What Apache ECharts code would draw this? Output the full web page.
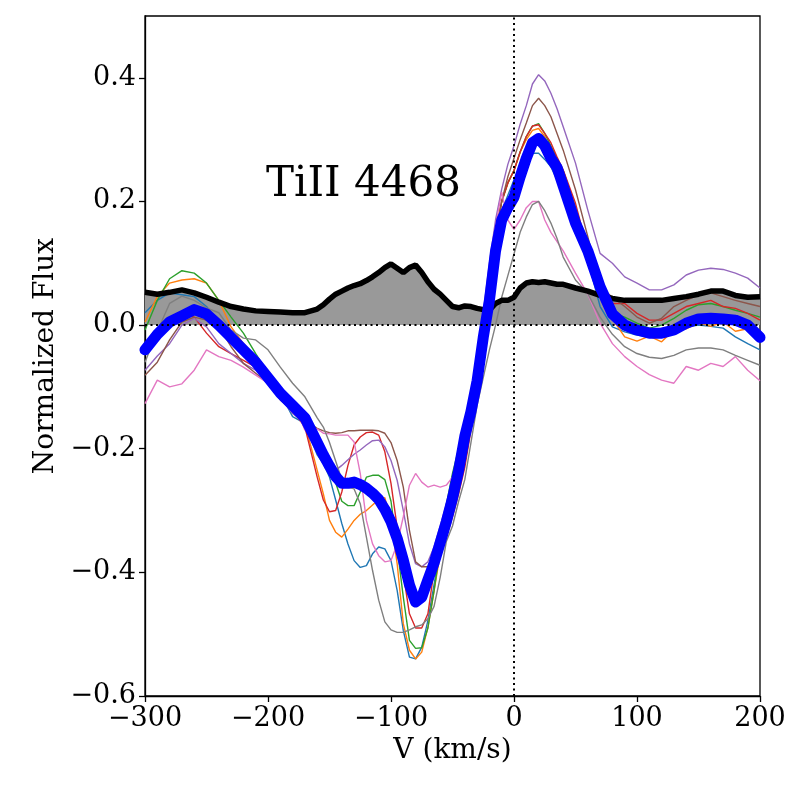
<!DOCTYPE html>
<html>
<head>
<meta charset="utf-8">
<script src="https://cdn.jsdelivr.net/npm/echarts@6/dist/echarts.min.js"></script>
<style>
  html, body { margin: 0; padding: 0; background: #fff; }
  #main { width: 800px; height: 800px; }
</style>
</head>
<body>
<div id="main"></div>
<script>
// velocity grid (km/s)
var V = [-300, -290, -280, -270, -260, -250, -240, -230, -220, -210, -200, -190, -180, -170, -160,
  -155, -150, -145, -140, -135, -130, -125, -120, -115, -110, -105, -100, -95, -90, -85, -80,
  -75, -70, -65, -60, -55, -50, -45, -40, -35, -30, -25, -20, -15, -10, -5, 0,
  5, 10, 15, 20, 25, 30, 35, 40, 50, 60, 70, 80, 90, 100, 110, 120, 130, 140, 150, 160, 170, 180, 190, 200];

var xTicks = [-300, -200, -100, 0, 100, 200];
var yTicks = [-0.6, -0.4, -0.2, 0.0, 0.2, 0.4];
var lineLabel = 'TiII 4468';

var spec1 = [0.02, 0.04, 0.052, 0.049, 0.046, 0.03, 0.005, -0.019, -0.046, -0.062, -0.092, -0.11, -0.148, -0.159, -0.21,
  -0.224, -0.246, -0.283, -0.321, -0.354, -0.381, -0.392, -0.389, -0.37, -0.359, -0.362, -0.381, -0.429, -0.494, -0.537, -0.54,
  -0.521, -0.478, -0.42, -0.36, -0.3, -0.26, -0.22, -0.17, -0.12, -0.06, 0.01, 0.08, 0.14, 0.185, 0.21, 0.235,
  0.255, 0.272, 0.278, 0.278, 0.268, 0.256, 0.235, 0.219, 0.175, 0.105, 0.03, -0.003, -0.011, -0.016, -0.019, -0.016, -0.011, -0.003, 0.0, -0.002, -0.005, -0.019, -0.03, -0.04];
var spec2 = [0.005, 0.046, 0.068, 0.073, 0.075, 0.068, 0.04, -0.003, -0.03, -0.051, -0.084, -0.105, -0.132, -0.159, -0.235,
  -0.273, -0.316, -0.335, -0.343, -0.33, -0.316, -0.306, -0.3, -0.291, -0.282, -0.279, -0.316, -0.386, -0.483, -0.526, -0.54,
  -0.529, -0.489, -0.43, -0.37, -0.31, -0.27, -0.23, -0.18, -0.13, -0.07, 0.0, 0.08, 0.15, 0.2, 0.23, 0.25,
  0.28, 0.3, 0.315, 0.318, 0.305, 0.285, 0.265, 0.245, 0.19, 0.12, 0.05, 0.01, -0.019, -0.026, -0.018, -0.027, -0.008, -0.006, 0.004, -0.002, 0.005, -0.01, -0.006, -0.025];
var spec3 = [-0.008, 0.04, 0.075, 0.088, 0.084, 0.068, 0.04, 0.013, -0.013, -0.046, -0.078, -0.105, -0.121, -0.15, -0.195,
  -0.213, -0.235, -0.255, -0.285, -0.292, -0.292, -0.27, -0.246, -0.243, -0.243, -0.25, -0.285, -0.36, -0.44, -0.51, -0.523,
  -0.522, -0.49, -0.43, -0.36, -0.29, -0.24, -0.2, -0.16, -0.11, -0.06, 0.01, 0.08, 0.15, 0.2, 0.23, 0.25,
  0.28, 0.305, 0.322, 0.326, 0.31, 0.29, 0.27, 0.25, 0.19, 0.118, 0.046, 0.02, 0.013, 0.003, -0.005, 0.0, 0.011, 0.024, 0.033, 0.035, 0.03, 0.024, 0.019, 0.013];
var spec4 = [-0.04, -0.01, 0.01, 0.02, 0.013, -0.013, -0.035, -0.046, -0.057, -0.068, -0.089, -0.116, -0.138, -0.165, -0.246,
  -0.283, -0.302, -0.3, -0.27, -0.227, -0.194, -0.181, -0.174, -0.173, -0.178, -0.205, -0.256, -0.327, -0.402, -0.467, -0.49,
  -0.49, -0.467, -0.397, -0.364, -0.343, -0.31, -0.273, -0.23, -0.17, -0.1, -0.02, 0.06, 0.14, 0.2, 0.23, 0.25,
  0.28, 0.305, 0.322, 0.324, 0.31, 0.295, 0.272, 0.251, 0.197, 0.121, 0.055, 0.035, 0.035, 0.019, 0.008, 0.008, 0.019, 0.03, 0.035, 0.04, 0.03, 0.027, 0.019, 0.008];
var spec5 = [-0.073, -0.05, -0.03, 0.0, 0.011, -0.003, -0.03, -0.046, -0.062, -0.073, -0.094, -0.116, -0.143, -0.159, -0.195,
  -0.22, -0.24, -0.235, -0.227, -0.218, -0.209, -0.202, -0.194, -0.187, -0.186, -0.197, -0.219, -0.251, -0.3, -0.354, -0.386,
  -0.391, -0.383, -0.359, -0.325, -0.29, -0.25, -0.21, -0.17, -0.11, -0.05, 0.02, 0.1, 0.17, 0.22, 0.26, 0.29,
  0.325, 0.355, 0.39, 0.405, 0.395, 0.375, 0.35, 0.321, 0.262, 0.186, 0.116, 0.1, 0.078, 0.068, 0.057, 0.057, 0.065, 0.081, 0.089, 0.092, 0.09, 0.084, 0.076, 0.06];
var spec6 = [-0.081, -0.06, -0.024, 0.005, 0.013, 0.008, -0.003, -0.035, -0.062, -0.078, -0.094, -0.121, -0.138, -0.154, -0.167,
  -0.171, -0.174, -0.175, -0.174, -0.171, -0.171, -0.17, -0.17, -0.17, -0.171, -0.175, -0.19, -0.219, -0.262, -0.332, -0.383,
  -0.391, -0.391, -0.375, -0.345, -0.31, -0.27, -0.235, -0.2, -0.14, -0.07, 0.0, 0.08, 0.15, 0.2, 0.24, 0.27,
  0.3, 0.327, 0.355, 0.367, 0.355, 0.337, 0.31, 0.283, 0.219, 0.143, 0.062, 0.045, 0.03, 0.013, 0.003, 0.011, 0.03, 0.04, 0.049, 0.052, 0.046, 0.04, 0.035, 0.03];
var spec7 = [-0.127, -0.089, -0.1, -0.095, -0.073, -0.04, -0.051, -0.057, -0.068, -0.081, -0.094, -0.11, -0.121, -0.17, -0.168,
  -0.175, -0.176, -0.178, -0.178, -0.178, -0.189, -0.24, -0.316, -0.354, -0.373, -0.383, -0.381, -0.354, -0.31, -0.259, -0.24,
  -0.254, -0.262, -0.259, -0.262, -0.259, -0.246, -0.23, -0.2, -0.15, -0.08, 0.0, 0.08, 0.16, 0.215, 0.17, 0.155,
  0.17, 0.19, 0.2, 0.2, 0.17, 0.15, 0.135, 0.12, 0.084, 0.05, 0.003, -0.03, -0.051, -0.067, -0.08, -0.089, -0.094, -0.067, -0.073, -0.062, -0.067, -0.051, -0.073, -0.09];
var spec8 = [-0.06, -0.01, 0.035, 0.047, 0.04, 0.028, 0.02, -0.008, -0.021, -0.024, -0.04, -0.068, -0.094, -0.116, -0.15,
  -0.165, -0.19, -0.22, -0.25, -0.262, -0.265, -0.289, -0.343, -0.397, -0.445, -0.48, -0.493, -0.497, -0.497, -0.493, -0.488,
  -0.485, -0.475, -0.455, -0.408, -0.35, -0.325, -0.285, -0.25, -0.19, -0.13, -0.085, -0.04, 0.0, 0.045, 0.08, 0.115,
  0.15, 0.175, 0.195, 0.2, 0.185, 0.165, 0.14, 0.11, 0.073, 0.051, 0.013, -0.015, -0.035, -0.046, -0.052, -0.054, -0.049, -0.04, -0.037, -0.037, -0.04, -0.049, -0.057, -0.065];

var meanFlux = [-0.04, -0.015, 0.005, 0.015, 0.025, 0.018, 0.0, -0.02, -0.04, -0.06, -0.085, -0.11, -0.13, -0.15, -0.19,
  -0.21, -0.228, -0.245, -0.256, -0.256, -0.254, -0.258, -0.264, -0.272, -0.282, -0.298, -0.318, -0.345, -0.38, -0.42, -0.448,
  -0.44, -0.412, -0.385, -0.352, -0.318, -0.28, -0.235, -0.18, -0.14, -0.09, -0.02, 0.04, 0.12, 0.17, 0.19, 0.207,
  0.24, 0.27, 0.295, 0.302, 0.29, 0.27, 0.255, 0.225, 0.165, 0.12, 0.062, 0.018, 0.0, -0.008, -0.013, -0.013, -0.008, 0.003, 0.01, 0.011, 0.01, 0.008, 0.0, -0.02];
var stdFlux = [0.053, 0.05, 0.053, 0.057, 0.052, 0.045, 0.037, 0.03, 0.026, 0.023, 0.022, 0.021, 0.02, 0.02, 0.026,
  0.033, 0.042, 0.05, 0.055, 0.06, 0.064, 0.067, 0.072, 0.078, 0.085, 0.093, 0.099, 0.092, 0.085, 0.093, 0.097,
  0.085, 0.07, 0.058, 0.05, 0.04, 0.03, 0.028, 0.031, 0.03, 0.027, 0.025, 0.024, 0.035, 0.04, 0.04, 0.045,
  0.06, 0.068, 0.07, 0.069, 0.07, 0.068, 0.066, 0.066, 0.06, 0.055, 0.048, 0.043, 0.04, 0.04, 0.04, 0.04, 0.043, 0.046, 0.05, 0.055, 0.055, 0.048, 0.045, 0.046];

var specs = [spec1, spec2, spec3, spec4, spec5, spec6, spec7, spec8];
var colors = ['#1f77b4', '#ff7f0e', '#2ca02c', '#d62728', '#9467bd', '#8c564b', '#e377c2', '#7f7f7f'];

function pairs(ys) {
  return V.map(function (v, i) { return [v, ys[i]]; });
}
function minus(s) {
  return s.replace('-', '\u2212');
}

var font = 'DejaVu Serif';
var series = [];

// gray band of the standard deviation
series.push({
  type: 'line', data: pairs(stdFlux), symbol: 'none', z: 1,
  lineStyle: { width: 0 },
  areaStyle: { color: '#999999', opacity: 1 },
  markLine: {
    silent: true, symbol: ['none', 'none'], label: { show: false },
    lineStyle: { color: '#000', type: [2, 3.5], width: 2 },
    data: [{ xAxis: 0 }, { yAxis: 0 }]
  }
});

specs.forEach(function (s, i) {
  series.push({
    type: 'line', data: pairs(s), symbol: 'none', z: 2,
    lineStyle: { color: colors[i], width: 1.4 }
  });
});

series.push({
  type: 'line', data: pairs(stdFlux), symbol: 'none', z: 3,
  lineStyle: { color: '#000', width: 5.5 }
});
series.push({
  type: 'line', data: pairs(meanFlux), symbol: 'none', z: 4,
  lineStyle: { color: '#0000ff', width: 11, cap: 'round', join: 'round' }
});

var myChart = echarts.init(document.getElementById('main'));
myChart.setOption({
  animation: false,
  backgroundColor: '#fff',
  grid: { left: 145, right: 40, top: 16, bottom: 104, show: true, borderColor: '#000', borderWidth: 1.3, backgroundColor: 'transparent' },
  graphic: [{
    type: 'text', left: 266, top: 164, z: 10,
    style: { text: lineLabel, font: '42px "DejaVu Serif"', fill: '#000' }
  }],
  xAxis: {
    type: 'value', min: -300, max: 200, interval: 100,
    name: 'V (km/s)', nameLocation: 'middle', nameGap: 40,
    nameTextStyle: { fontFamily: font, fontSize: 28, color: '#000' },
    axisLine: { show: true, onZero: false, lineStyle: { color: '#000', width: 1.3 } },
    axisTick: { show: true, length: 6, lineStyle: { color: '#000', width: 1.3 }, customValues: xTicks },
    axisLabel: { fontFamily: font, fontSize: 27, color: '#000', margin: 9, customValues: xTicks,
      formatter: function (v) { return minus(String(v)); } },
    splitLine: { show: false }
  },
  yAxis: {
    type: 'value', min: -0.6, max: 0.5, interval: 0.2,
    name: 'Normalized Flux', nameLocation: 'middle', nameGap: 84, nameRotate: 90,
    nameTextStyle: { fontFamily: font, fontSize: 28, color: '#000' },
    axisLine: { show: true, onZero: false, lineStyle: { color: '#000', width: 1.3 } },
    axisTick: { show: true, length: 6, lineStyle: { color: '#000', width: 1.3 }, customValues: yTicks },
    axisLabel: { fontFamily: font, fontSize: 27, color: '#000', margin: 9, customValues: yTicks,
      formatter: function (v) { return minus(v.toFixed(1)); } },
    splitLine: { show: false }
  },
  series: series
});
</script>
</body>
</html>
